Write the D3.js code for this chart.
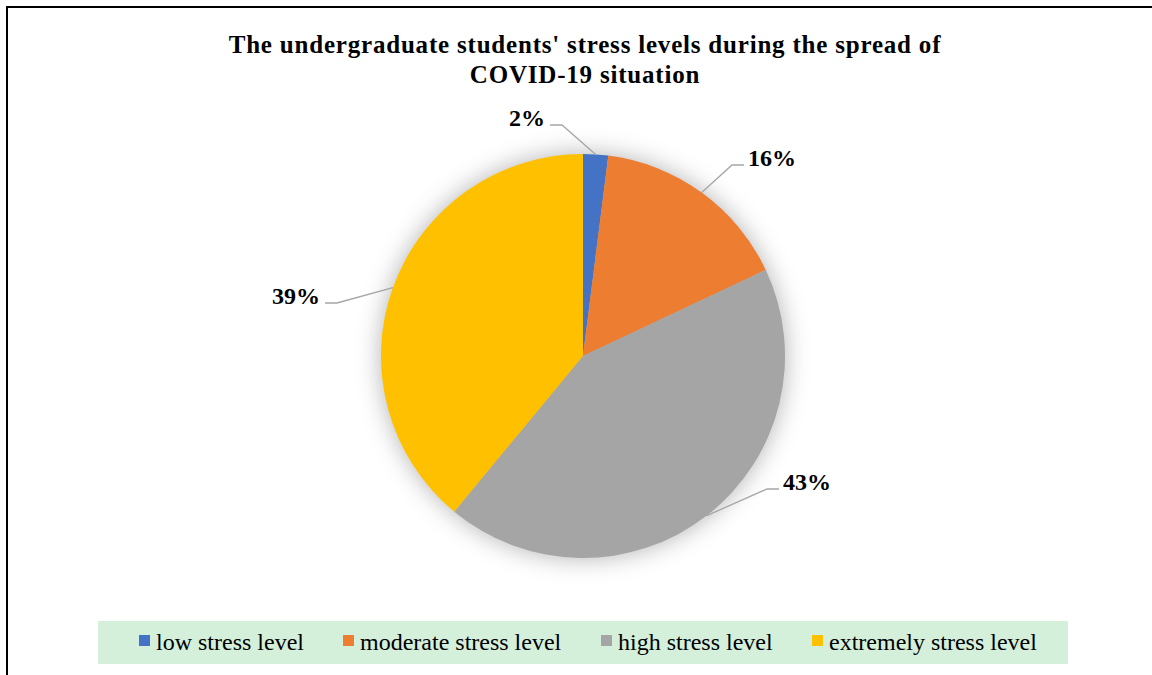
<!DOCTYPE html>
<html>
<head>
<meta charset="utf-8">
<script src="https://cdn.jsdelivr.net/npm/d3@7"></script>
<style>
  body { margin: 0; background: #fff; }
  svg { display: block; font-family: "Liberation Serif", "Times New Roman", serif; }
</style>
</head>
<body>
<div id="chart"></div>
<script>
// data
const categories = ["low stress level", "moderate stress level", "high stress level", "extremely stress level"]
const values = [2, 16, 43, 39]
const labels = ["2%", "16%", "43%", "39%"]
const colors = ["#4472C4", "#ED7D31", "#A5A5A5", "#FFC000"]
const titleLines = ["The undergraduate students' stress levels during the spread of", "COVID-19 situation"]

const width = 1152, height = 675
const cx = 583, cy = 356, radius = 202

const svg = d3.select("#chart").append("svg")
  .attr("width", width)
  .attr("height", height)

// soft shadow round the pie
const defs = svg.append("defs")
const glow = defs.append("filter").attr("id", "glow")
  .attr("x", "-30%").attr("y", "-30%").attr("width", "160%").attr("height", "160%")
glow.append("feGaussianBlur").attr("in", "SourceAlpha").attr("stdDeviation", 12).attr("result", "blur")
glow.append("feFlood").attr("flood-color", "#000").attr("flood-opacity", 0.3)
glow.append("feComposite").attr("in2", "blur").attr("operator", "in")

// frame: only the left and top edges are visible
svg.append("rect")
  .attr("x", 7).attr("y", 7)
  .attr("width", 1300).attr("height", 800)
  .attr("fill", "none")
  .attr("stroke", "#000")
  .attr("stroke-width", 2)

svg.append("g").selectAll("text")
  .data(titleLines)
  .join("text")
  .attr("x", 585)
  .attr("y", (d, i) => 53 + i * 30)
  .attr("text-anchor", "middle")
  .attr("font-size", 25)
  .attr("font-weight", "bold")
  .attr("letter-spacing", 0.8)
  .text(d => d)

const pie = d3.pie().sort(null).value(d => d)
const arcs = pie(values)
const arc = d3.arc().innerRadius(0).outerRadius(radius)

const g = svg.append("g").attr("transform", `translate(${cx},${cy})`)

g.append("circle").attr("r", radius).attr("filter", "url(#glow)")

g.selectAll("path.slice")
  .data(arcs)
  .join("path")
  .attr("class", "slice")
  .attr("d", arc)
  .attr("fill", (d, i) => colors[i])

// leader lines and labels; label anchor positions relative to centre
const labelPos = [
  { x: -38, y: -231, anchor: "end", elbow: -21 },
  { x: 165, y: -191, anchor: "start", elbow: 149 },
  { x: 200, y: 133, anchor: "start", elbow: 184 },
  { x: -263, y: -53, anchor: "end", elbow: -246 }
]

arcs.forEach((d, i) => {
  const mid = (d.startAngle + d.endAngle) / 2
  const px = Math.sin(mid) * radius
  const py = -Math.cos(mid) * radius
  const p = labelPos[i]
  const ly = p.y
  const sx = p.anchor === "end" ? p.x + 5 : p.x - 4
  g.append("polyline")
    .attr("points", [[sx, ly], [p.elbow, ly], [px, py]].map(q => q.join(",")).join(" "))
    .attr("fill", "none")
    .attr("stroke", "#A6A6A6")
    .attr("stroke-width", 1.3)
  g.append("text")
    .attr("x", p.x)
    .attr("y", ly + 1)
    .attr("text-anchor", p.anchor)
    .attr("font-size", 24)
    .attr("font-weight", "bold")
    .text(labels[i])
})

// legend
const legend = svg.append("g")
legend.append("rect")
  .attr("x", 98).attr("y", 621)
  .attr("width", 970).attr("height", 43)
  .attr("fill", "#D4F0DA")

const legendX = [139, 343, 601, 812]
const items = legend.selectAll("g.item")
  .data(categories)
  .join("g")
  .attr("class", "item")
  .attr("transform", (d, i) => `translate(${legendX[i]},0)`)
items.append("rect")
  .attr("x", 0).attr("y", 635)
  .attr("width", 11).attr("height", 11)
  .attr("fill", (d, i) => colors[i])
items.append("text")
  .attr("x", 17).attr("y", 650)
  .attr("font-size", 24)
  .text(d => d)
</script>
</body>
</html>
